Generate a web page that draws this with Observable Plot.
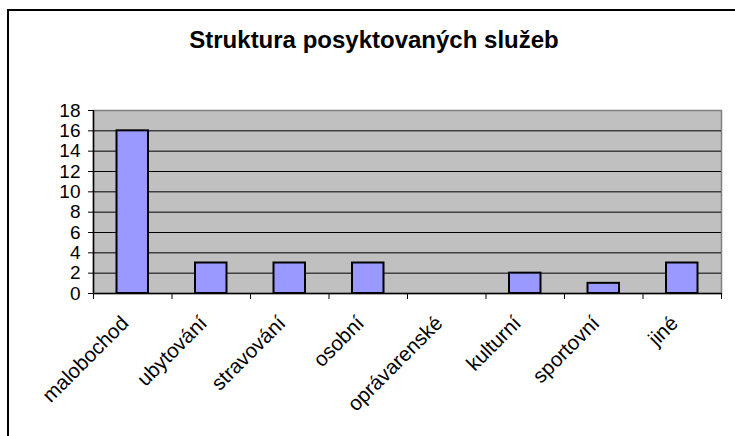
<!DOCTYPE html>
<html>
<head>
<meta charset="utf-8">
<script src="https://cdn.jsdelivr.net/npm/d3@7"></script>
<script src="https://cdn.jsdelivr.net/npm/@observablehq/plot@0.6"></script>
<style>
  html, body { margin: 0; padding: 0; background: #fff; }
  #wrap { position: relative; width: 735px; height: 436px; overflow: hidden; font-family: "Liberation Sans", Arial, sans-serif; }
  #frame { position: absolute; left: 7px; top: 9px; width: 800px; height: 500px; border-left: 2px solid #000; border-top: 2px solid #000; box-sizing: border-box; }
  #title { position: absolute; left: 374px; top: 28px; transform: translateX(-50%); font-weight: bold; font-size: 24px; line-height: 23px; white-space: nowrap; color: #000; }
  #chart { position: absolute; left: 0; top: 0; }
</style>
</head>
<body>
<div id="wrap">
  <div id="frame"></div>
  <div id="title">Struktura posyktovaných služeb</div>
  <div id="chart"></div>
</div>
<script>
const categories = ["malobochod", "ubytování", "stravování", "osobní", "oprávarenské", "kulturní", "sportovní", "jiné"];
const values = [16, 3, 3, 3, 0, 2, 1, 3];
const yTicks = [0, 2, 4, 6, 8, 10, 12, 14, 16, 18];

const data = categories.map((c, i) => ({category: c, index: i, value: values[i]}));
const xBoundaries = d3.range(categories.length + 1);

const chart = Plot.plot({
  width: 735,
  height: 436,
  marginLeft: 93,
  marginRight: 14,
  marginTop: 110,
  marginBottom: 143,
  style: {background: "transparent", fontFamily: "'Liberation Sans', Arial, sans-serif", color: "#000"},
  x: {type: "linear", domain: [0, categories.length], axis: null},
  y: {domain: [0, 18], axis: null},
  marks: [
    Plot.frame({fill: "#c0c0c0", stroke: "#808080", strokeWidth: 1.5}),
    Plot.ruleY(yTicks.filter(v => v > 0 && v < 18), {stroke: "#000", strokeWidth: 1}),
    Plot.rectY(data, {
      x1: d => d.index, x2: d => d.index + 1, y1: 0, y2: "value",
      insetLeft: 23.5, insetRight: 23.5,
      fill: "#9999ff", stroke: "#000", strokeWidth: 2
    }),
    Plot.ruleY([0], {stroke: "#000", strokeWidth: 1.5}),
    Plot.ruleX([0], {stroke: "#000", strokeWidth: 1.5}),
    Plot.axisX({ticks: xBoundaries, tickSize: 6, tickFormat: () => "", label: null, stroke: "#000"}),
    Plot.axisY({ticks: yTicks, tickSize: 5, tickPadding: 8, fontSize: 19, label: null, tickFormat: d => String(d), stroke: "#000"}),
    Plot.text(data, {
      x: d => d.index + 0.5, y: 0, text: "category",
      rotate: -45, textAnchor: "end", lineAnchor: "bottom",
      dx: -3, dy: 31, fontSize: 20.5, fill: "#000"
    })
  ]
});
document.getElementById("chart").appendChild(chart);
</script>
</body>
</html>
